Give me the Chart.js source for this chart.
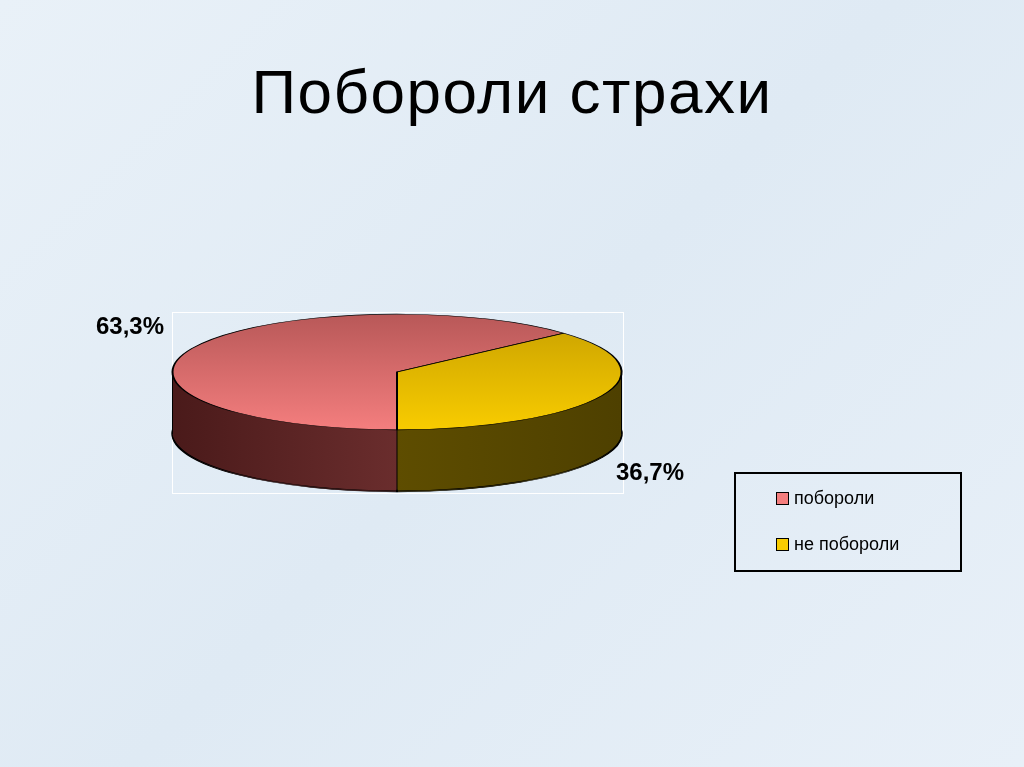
<!DOCTYPE html>
<html><head><meta charset="utf-8">
<script src="https://cdn.jsdelivr.net/npm/chart.js@4"></script>
<style>
body{margin:0;width:1024px;height:767px;overflow:hidden;background:linear-gradient(135deg,#e9f1f8,#dfeaf4 50%,#e8f0f8);font-family:"Liberation Sans",Arial,sans-serif;position:relative}
#t{position:absolute;left:0;width:1024px;top:56px;text-align:center;font-family:"Liberation Sans";font-size:62px;color:#000;letter-spacing:1.5px}
.lbl{position:absolute;font-size:24px;font-weight:bold}
#box{position:absolute;left:172px;top:312px;width:450px;height:180px;border:1px solid #fff}
#leg{position:absolute;left:734px;top:472px;width:224px;height:96px;border:2px solid #000;font-size:18px}
.it{position:absolute;left:40px}
.sw{display:inline-block;width:11px;height:11px;border:1px solid #000;margin-right:5px;vertical-align:-1px}
canvas{position:absolute;left:0;top:0}
</style></head><body>
<div id="t"></div>
<div id="box"></div>
<canvas id="c" width="1024" height="767"></canvas>
<div class="lbl" style="left:96px;top:312px" id="l0"></div>
<div class="lbl" style="left:616px;top:458px" id="l1"></div>
<div id="leg"></div>
<script>
const categories=["поборолi","не поборолi"].map(s=>s.replace(/i/g,"и"));
const values=[63.3,36.7];
const topColors=[["#b85858","#f47e7e"],["#c8a000","#f8cc00"]];
const sideColors=[["#4a1a1a","#8a4040"],["#6e5a00","#4e4000"]];
document.getElementById('t').textContent="Поборолиi страхи".replace("иi","и");
document.getElementById('l0').textContent="63,3%";
document.getElementById('l1').textContent="36,7%";
const leg=document.getElementById('leg');
categories.forEach((c,i)=>{const d=document.createElement('div');d.className='it';d.style.top=(i?60:14)+'px';
d.innerHTML='<span class="sw" style="background:'+topColors[i][1]+'"></span>'+c;leg.appendChild(d);});
const K=58/225, DEPTH=62;
const plug={id:'p3d',
beforeDatasetsDraw(ch){const ctx=ch.ctx,m=ch.getDatasetMeta(0),a0=m.data[0],cx=a0.x,cy=a0.y,r=a0.outerRadius;
const sg=[0,1].map(i=>{const g=ctx.createLinearGradient(cx-r,0,cx+r,0);
 g.addColorStop(0,sideColors[i][0]);g.addColorStop(1,sideColors[i][1]);return g;});
ctx.save();ctx.translate(cx,cy);ctx.scale(1,K);ctx.translate(-cx,-cy);
for(let d=DEPTH/K;d>=0;d-=1/K){ctx.save();ctx.translate(0,d);
m.data.forEach((a,i)=>{const o=a.options;const bc=o.backgroundColor,bw=o.borderWidth;
o.backgroundColor=sg[i];o.borderWidth=(d>=DEPTH/K-1/K)?2:0;a.draw(ctx);o.backgroundColor=bc;o.borderWidth=bw;});
ctx.restore();}
ctx.restore();
ctx.save();ctx.strokeStyle='#000';ctx.lineWidth=1;
[[cx-r,cy],[cx+r,cy],[cx,cy+r*K]].forEach(p=>{ctx.beginPath();ctx.moveTo(p[0],p[1]);ctx.lineTo(p[0],p[1]+DEPTH);ctx.stroke();});
ctx.restore();
m.data.forEach((a,i)=>{const g=ctx.createLinearGradient(0,cy-r,0,cy+r);g.addColorStop(0,topColors[i][0]);g.addColorStop(1,topColors[i][1]);a.options.backgroundColor=g;a.options.borderWidth=2;});
ctx.save();ctx.translate(cx,cy);ctx.scale(1,K);ctx.translate(-cx,-cy);},
afterDatasetsDraw(ch){ch.ctx.restore();}};
new Chart(document.getElementById('c'),{type:'pie',
data:{labels:categories,datasets:[{data:values,backgroundColor:topColors.map(c=>c[1]),borderColor:'#000',borderWidth:1}]},
options:{responsive:false,animation:false,rotation:180,layout:{padding:{left:172,right:402,top:147,bottom:170}},
plugins:{legend:{display:false},tooltip:{enabled:false}}},plugins:[plug]});
</script></body></html>
